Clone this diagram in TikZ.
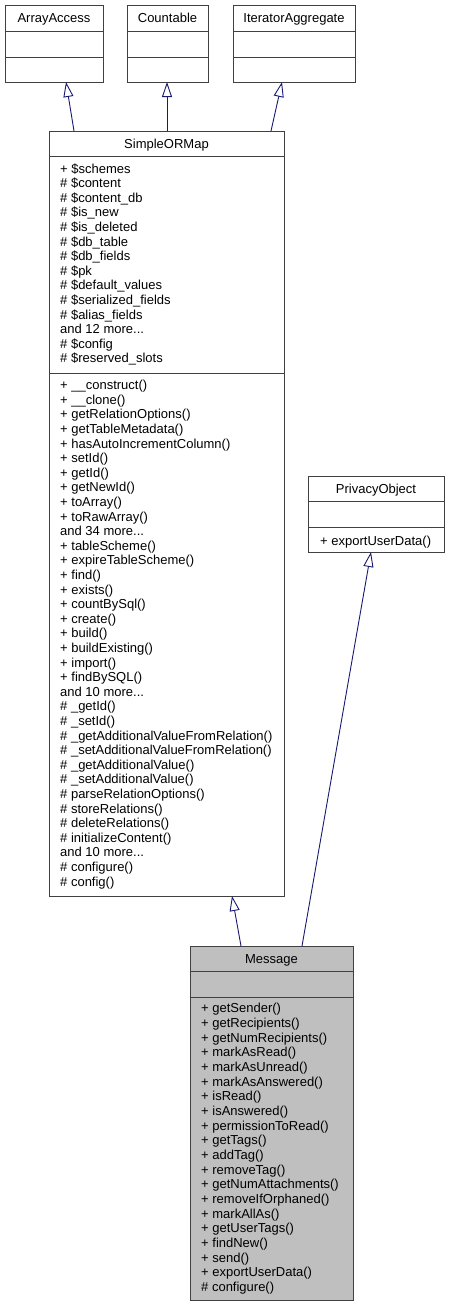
\documentclass[tikz,border=0pt]{standalone}
\usepackage{fontspec}
\setmainfont{Liberation Sans}
\usetikzlibrary{arrows.meta}
\newcommand\mydots{...}
\definecolor{edgeblue}{RGB}{25,25,112}
\definecolor{boxline}{RGB}{64,64,64}
\definecolor{msgfill}{RGB}{191,191,191}
\tikzset{
  umlbox/.style={draw=boxline, line width=1pt, fill=white, anchor=north west, inner sep=0pt, outer sep=0pt},
  divider/.style={draw=boxline, line width=1pt},
  ttl/.style={anchor=base, inner sep=0pt, font=\fontsize{13}{14.6}\selectfont},
  mem/.style={anchor=base west, inner sep=0pt, font=\fontsize{13}{14.6}\selectfont},
  inh/.style={draw=edgeblue, line width=0.9pt, -{Triangle[length=15pt,width=10pt,fill=white]}}
}
\begin{document}
\begin{tikzpicture}[x=1pt,y=-1pt]
\useasboundingbox (0,0) rectangle (449,1307);
% ArrayAccess
\node[umlbox, minimum width=98, minimum height=77] (aa) at (5,5) {};
\draw[divider] ([yshift=-26]aa.north west) -- ([yshift=-26]aa.north east);
\draw[divider] ([yshift=-52]aa.north west) -- ([yshift=-52]aa.north east);
\node[ttl] (aat) at (54,22.6) {ArrayAccess};
% Countable
\node[umlbox, minimum width=81, minimum height=77] (ct) at (127,5) {};
\draw[divider] ([yshift=-26]ct.north west) -- ([yshift=-26]ct.north east);
\draw[divider] ([yshift=-52]ct.north west) -- ([yshift=-52]ct.north east);
\node[ttl] (ctt) at (167.5,22.6) {Countable};
% IteratorAggregate
\node[umlbox, minimum width=122, minimum height=77] (ia) at (233,5) {};
\draw[divider] ([yshift=-26]ia.north west) -- ([yshift=-26]ia.north east);
\draw[divider] ([yshift=-52]ia.north west) -- ([yshift=-52]ia.north east);
\node[ttl] (iat) at (294,22.6) {IteratorAggregate};
% SimpleORMap
\node[umlbox, minimum width=235, minimum height=765] (som) at (49,131) {};
\draw[divider] ([yshift=-25]som.north west) -- ([yshift=-25]som.north east);
\draw[divider] ([yshift=-242]som.north west) -- ([yshift=-242]som.north east);
\node[ttl] (somt) at (166.5,148) {SimpleORMap};
\foreach \t [count=\i from 0] in {{+ \$schemes}, {\# \$content}, {\# \$content\_db}, {\# \$is\_new}, {\# \$is\_deleted}, {\# \$db\_table}, {\# \$db\_fields}, {\# \$pk}, {\# \$default\_values}, {\# \$serialized\_fields}, {\# \$alias\_fields}, {and 12 more\mydots}, {\# \$config}, {\# \$reserved\_slots}}
  \node[mem] (soma\i) at (60,173+14.6*\i) {\t};
\foreach \t [count=\i from 0] in {{+ \_\_construct()}, {+ \_\_clone()}, {+ getRelationOptions()}, {+ getTableMetadata()}, {+ hasAutoIncrementColumn()}, {+ setId()}, {+ getId()}, {+ getNewId()}, {+ toArray()}, {+ toRawArray()}, {and 34 more\mydots}, {+ tableScheme()}, {+ expireTableScheme()}, {+ find()}, {+ exists()}, {+ countBySql()}, {+ create()}, {+ build()}, {+ buildExisting()}, {+ import()}, {+ findBySQL()}, {and 10 more\mydots}, {\# \_getId()}, {\# \_setId()}, {\# \_getAdditionalValueFromRelation()}, {\# \_setAdditionalValueFromRelation()}, {\# \_getAdditionalValue()}, {\# \_setAdditionalValue()}, {\# parseRelationOptions()}, {\# storeRelations()}, {\# deleteRelations()}, {\# initializeContent()}, {and 10 more\mydots}, {\# configure()}, {\# config()}}
  \node[mem] (somm\i) at (60,389.6+14.6*\i) {\t};
% PrivacyObject
\node[umlbox, minimum width=136, minimum height=76] (po) at (308,476) {};
\draw[divider] ([yshift=-25]po.north west) -- ([yshift=-25]po.north east);
\draw[divider] ([yshift=-51]po.north west) -- ([yshift=-51]po.north east);
\node[ttl] (pot) at (376,493) {PrivacyObject};
\node[mem] (pom) at (320,545.3) {+ exportUserData()};
% Message
\node[umlbox, fill=msgfill, minimum width=163, minimum height=354] (msg) at (190,946) {};
\draw[divider] ([yshift=-25]msg.north west) -- ([yshift=-25]msg.north east);
\draw[divider] ([yshift=-51]msg.north west) -- ([yshift=-51]msg.north east);
\node[ttl] (msgt) at (271.5,963.2) {Message};
\foreach \t [count=\i from 0] in {{+ getSender()}, {+ getRecipients()}, {+ getNumRecipients()}, {+ markAsRead()}, {+ markAsUnread()}, {+ markAsAnswered()}, {+ isRead()}, {+ isAnswered()}, {+ permissionToRead()}, {+ getTags()}, {+ addTag()}, {+ removeTag()}, {+ getNumAttachments()}, {+ removeIfOrphaned()}, {+ markAllAs()}, {+ getUserTags()}, {+ findNew()}, {+ send()}, {+ exportUserData()}, {\# configure()}}
  \node[mem] (msgm\i) at (201,1012.7+14.68*\i) {\t};
% inheritance connectors
\draw[inh] ([xshift=25]som.north west) -- ([xshift=61]aa.south west);
\draw[inh] ([xshift=118]som.north west) -- ([xshift=40]ct.south west);
\draw[inh] ([xshift=222]som.north west) -- ([xshift=49]ia.south west);
\draw[inh] ([xshift=51]msg.north west) -- ([xshift=183]som.south west);
\draw[inh] ([xshift=112]msg.north west) -- ([xshift=63]po.south west);
\end{tikzpicture}
\end{document}
